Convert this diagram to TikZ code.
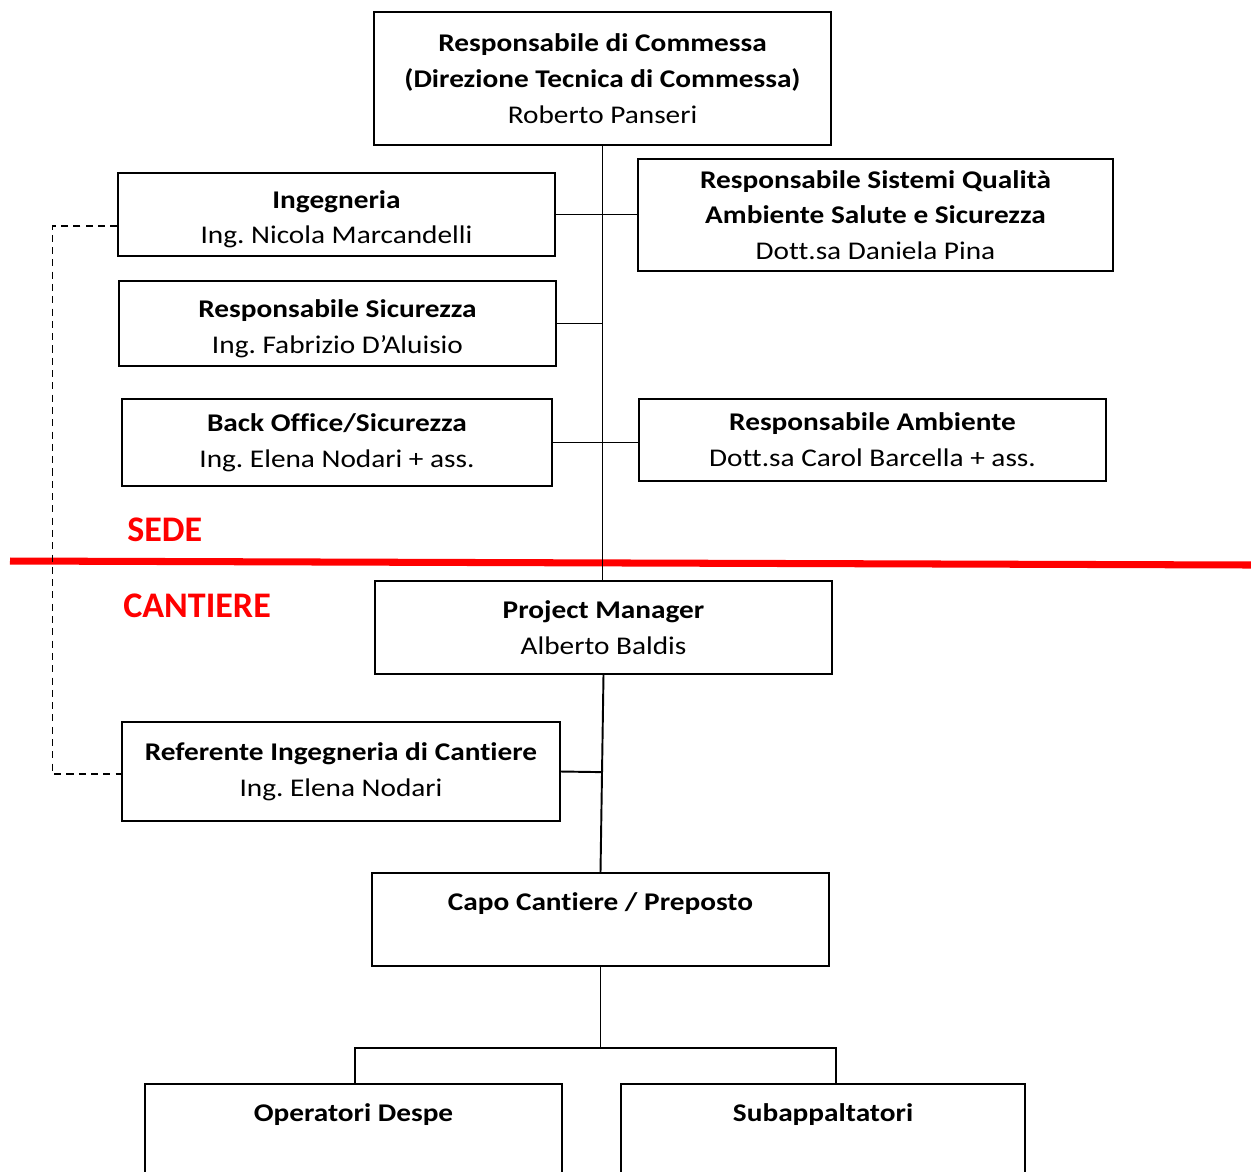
\documentclass[tikz,border=0pt]{standalone}
\usepackage{fontspec}
\setmainfont{Carlito}[Ligatures=NoCommon]
\newfontfamily\boxfont{Carlito}[FakeStretch=1.15,Ligatures=NoCommon]
\usetikzlibrary{calc}
\newcommand{\ruolo}[2]{\textbf{#1}\\#2}
\frenchspacing

\begin{document}
\begin{tikzpicture}[x=0.02cm,y=-0.02cm,
  box/.style={draw,line width=0.9pt,align=center,inner sep=0pt,
    font=\boxfont\fontsize{14.5}{20.4}\selectfont},
  wire/.style={line width=1.1pt},
  zona/.style={text=red,inner sep=0pt,anchor=west,
    font=\fontsize{20.5}{24}\selectfont\bfseries}]

  \useasboundingbox (0,0) rectangle (1251,1171);
  \clip (0,0) rectangle (1251,1171);

  %% -- sede
  \node[box,minimum width=9.14cm,minimum height=2.66cm] (00) at (602.5,78.5)
    {\textbf{Responsabile di Commessa}\\\textbf{(Direzione Tecnica di Commessa)}\\Roberto Panseri};
  \node[box,minimum width=8.74cm,minimum height=1.66cm] (10) at (336.5,214.5)
    {\ruolo{\rule{0pt}{5.5mm}Ingegneria}{Ing. Nicola Marcandelli}};
  \node[box,minimum width=9.5cm,minimum height=2.24cm] (11) at (875.5,215)
    {\textbf{Responsabile Sistemi Qualità}\\\textbf{Ambiente Salute e Sicurezza}\\Dott.sa Daniela Pina};
  \node[box,minimum width=8.74cm,minimum height=1.70cm] (20) at (337.5,323.5)
    {\ruolo{\rule{0pt}{5.6mm}Responsabile Sicurezza}{Ing. Fabrizio D’Aluisio}};
  \node[box,minimum width=8.6cm,minimum height=1.74cm] (30) at (337,442.5)
    {\ruolo{Back Office/Sicurezza}{Ing. Elena Nodari + ass.}};
  \node[box,minimum width=9.34cm,minimum height=1.64cm] (31) at (872.5,440)
    {\ruolo{Responsabile Ambiente}{Dott.sa Carol Barcella + ass.}};

  \node[zona] (sede) at (127,530) {SEDE};
  \draw[red,line width=4pt] (10,561) -- (1251,565);
  \node[zona] (cantiere) at (123,606) {CANTIERE};

  %% -- cantiere
  \node[box,minimum width=9.14cm,minimum height=1.86cm] (40) at (603.5,627.5)
    {\ruolo{Project Manager}{Alberto Baldis}};
  \node[box,minimum width=8.76cm,minimum height=1.98cm] (50) at (341,771.5)
    {\ruolo{Referente Ingegneria di Cantiere}{Ing. Elena Nodari}};
  \node[box,minimum width=9.14cm,minimum height=1.86cm] (60) at (600.5,919.5)
    {\textbf{Capo Cantiere / Preposto}\\\mbox{}};
  \node[box,minimum width=8.34cm,minimum height=2.6cm,anchor=north] (70) at (353.5,1083)
    {\textbf{Operatori Despe}\\\mbox{}\\\mbox{}};
  \node[box,minimum width=8.08cm,minimum height=2.6cm,anchor=north] (71) at (823,1083)
    {\textbf{Subappaltatori}\\\mbox{}\\\mbox{}};

  %% -- edges
  \draw[wire] (00.south) -- (00.south |- 40.north);
  \draw[wire] (10.east) -- (10.east -| 11.west);
  \draw[wire] (20.east) -- (20.east -| 00.south);
  \draw[wire] (30.east) -- (30.east -| 31.west);
  \draw[wire] (40.south) -- (60.north);
  \draw[wire] (50.east) -- ($(40.south)!(50.east)!(60.north)$);
  \draw[wire] (60.south) -- ++(0,81) coordinate (fork);
  \draw[wire] ([xshift=0.03cm]70.north) |- (fork) -| ([xshift=0.26cm]71.north);
  %% dashed link ingegneria
  \draw[line width=0.8pt,dash pattern=on 4pt off 3pt]
    ([yshift=-0.23cm]10.west) -- ++(-65,0) |- ([yshift=-0.05cm]50.west);

\end{tikzpicture}
\end{document}
